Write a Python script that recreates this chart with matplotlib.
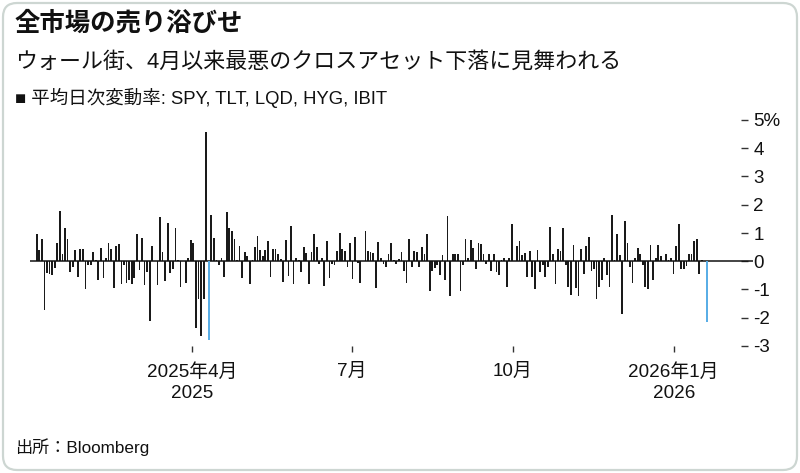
import matplotlib
matplotlib.use('Agg')
import matplotlib.pyplot as plt
import numpy as np
import pandas as pd
from matplotlib.patches import FancyBboxPatch

plt.rcParams['font.family'] = ['Liberation Sans', 'Noto Sans CJK JP', 'DejaVu Sans']

# ---- data ----
holidays = ['2025-01-01', '2025-01-09', '2025-01-20', '2025-02-17', '2025-04-18',
            '2025-05-26', '2025-06-19', '2025-07-04', '2025-09-01', '2025-11-27',
            '2025-12-25', '2026-01-01', '2026-01-19']
start_date = '2025-01-02'
end_date = '2026-01-20'

avg_change = [
    0.95, 0.4, 0.8, -1.74, -0.4, -0.45, -0.5, -0.25, 0.66, 1.77, 0.27, 1.16, 0.8, -0.38, -0.2,
    0.41, -0.55, 0.45, 0.43, -1.0, -0.15,
    -0.15, 0.33, 0.05, -0.67, 0.47, -0.6, 0.1, 0.66, 0.43, -0.93, 0.54, 0.6, -0.8, -0.15,
    -0.78, -0.67, -0.8, -0.6, 0.95, -0.32, 0.84, -0.85,
    -0.38, -2.13, 0.53, 0.02, -0.83, 1.55, 0.31, -0.69, 1.36, -0.4, -0.28, 1.18, 0.04, -0.91,
    0.0, -0.78, 0.12, 0.74, 0.66, -2.35, -1.32, -2.65, -1.32,
    4.56, -2.77, 1.65, 0.84, 0.05, -0.14, 0.1, -0.55, 1.73, 1.16, 1.06, 0.8, 0.03, 0.53,
    -0.59, 0.31, 0.19, -0.82, 0.04, 0.5, 0.9, 0.39, 0.2,
    0.41, 0.71, -0.55, 0.45, 0.43, 0.24, 0.07, -0.73, 0.74, -0.52, 1.24, -0.79, 0.13, 0.04,
    -0.38, 0.51, 0.3, -0.79, 0.33, 0.98, 0.5, -0.08, 0.12,
    -0.89, 0.71, -0.61, -0.08, -0.14, 0.35, 1.0, 0.43, 0.38, -0.2, 0.66, -0.64, 0.86, -0.07,
    -0.77, 0.02, 1.06, 0.37, 0.33, 0.3, -0.93, 0.69, 0.12,
    -0.1, -0.2, 0.24, 0.66, 0.04, -0.08, 0.07, 0.33, -0.33, -0.76, 0.78, -0.2, 0.37, 0.33,
    -0.2, 0.5, 0.27, 0.97, -1.05, -0.35, -0.24, -0.14,
    -0.5, 0.21, -0.65, 1.6, -1.24, 0.24, 0.24, 0.24, -1.05, -0.12, 0.77, 0.1, 0.74, 0.47,
    -0.26, 0.66, 0.61, 0.27, -0.08, 0.27, -0.34, 0.24, -0.38,
    -0.5, 0.03, 0.1, -0.91, 0.12, 1.31, 0.02, 0.54, 0.73, 0.21, 0.3, -0.55, 0.35, -0.55,
    -1.0, 0.39, -0.38, -0.14, -0.55, -0.2, 1.2, 0.27,
    -0.79, 0.45, 0.35, 1.18, -0.14, -0.91, -1.2, 0.57, -0.93, -1.24, 0.45, -0.46, 0.54, 0.85,
    -0.35, -0.26, -1.35, -0.91, -0.67, 0.1, -0.5, -0.91,
    1.63, 0.03, 0.95, 0.21, -1.88, 1.42, 0.63, -0.2, -0.76, 0.12, 0.48, 0.25, -0.14, -0.91,
    -0.97, 0.57, -0.67, 0.1, 0.57, 0.19, 0.02, 0.24,
    0.05, 0.13, -0.45, 0.54, 1.32, -0.28, -0.28, -0.17, 0.24, 0.24, 0.71, 0.78, -0.46, 0.03,
    0.02, -2.15,
]
highlight_dates = ['2025-04-10', '2026-01-20']

xtick_dates = ['2025-04-01', '2025-07-01', '2025-10-01', '2026-01-01']
xtick_labels = ['2025年4月\n2025', '7月', '10月', '2026年1月\n2026']
ytick_values = [5, 4, 3, 2, 1, 0, -1, -2, -3]
ytick_labels = ['5%', '4', '3', '2', '1', '0', '-1', '-2', '-3']

title = '全市場の売り浴びせ'
subtitle = 'ウォール街、4月以来最悪のクロスアセット下落に見舞われる'
legend_text = '平均日次変動率: SPY, TLT, LQD, HYG, IBIT'
source = '出所：Bloomberg'

# trading-day axis: one evenly spaced slot per session
dates = pd.bdate_range(start_date, end_date, freq='C', holidays=holidays)
n = min(len(dates), len(avg_change))
dates = dates[:n]
vals = np.array(avg_change[:n])
pos = np.arange(n)
is_hl = np.asarray(dates.isin(pd.to_datetime(highlight_dates)))

# month ticks placed proportionally in calendar time along the session axis
span = (dates[-1] - dates[0]).days
tick_pos = [(pd.Timestamp(t) - dates[0]).days / span * (n - 1) for t in xtick_dates]

BAR = '#1a1a1a'
BLUE = '#5aaee6'

W, H = 800, 473
fig = plt.figure(figsize=(W / 100, H / 100), dpi=100)
fig.patch.set_facecolor('white')

border = FancyBboxPatch((0.03, 0.03), W / 100 - 0.06, H / 100 - 0.06,
                        boxstyle='round,pad=0,rounding_size=0.14',
                        transform=fig.dpi_scale_trans, fc='none', ec='#cdd6d2', lw=1.6,
                        zorder=-5)
fig.patches.append(border)

left_px, right_px, top_px, bot_px = 30, 741, 120, 346
first_px, last_px = 36.7, 707.0
ax = fig.add_axes([left_px / W, 1 - bot_px / H, (right_px - left_px) / W, (bot_px - top_px) / H])
ax.set_facecolor('none')

ax.bar(pos[~is_hl], vals[~is_hl], width=0.68, color=BAR, linewidth=0, zorder=2)
ax.bar(pos[is_hl], vals[is_hl], width=0.78, color=BLUE, linewidth=0, zorder=4)
ax.plot([0, 1 + 12 / (right_px - left_px)], [0, 0], transform=ax.get_yaxis_transform(),
        color='#111111', lw=1.1, zorder=3, clip_on=False, solid_capstyle='butt')

px_per_bar = (last_px - first_px) / (n - 1)
ax.set_xlim((left_px - first_px) / px_per_bar, (right_px - first_px) / px_per_bar)
ax.set_ylim(-3, 5)

for s in ax.spines.values():
    s.set_visible(False)

ax.set_xticks(tick_pos)
ax.set_xticklabels(xtick_labels, linespacing=1.35)
ax.tick_params(axis='x', length=4, width=1, color='#333333', pad=8, labelsize=13.6,
               labelcolor='#111111')

ax.yaxis.tick_right()
ax.set_yticks(ytick_values)
ax.set_yticklabels(ytick_labels)
ax.tick_params(axis='y', length=5, width=1, color='#333333', pad=4, labelsize=13.5,
               labelcolor='#111111')

fig.text(15 / W, 1 - 23 / H, title, fontsize=18.3, fontweight='bold', va='center', ha='left',
         color='#111111')
fig.text(15 / W, 1 - 62 / H, subtitle, fontsize=15.8, va='center', ha='left', color='#111111')
fig.text(15 / W, 1 - 98 / H, '■ ' + legend_text, fontsize=13.3, va='center', ha='left',
         color='#111111')
fig.text(15 / W, 1 - 447 / H, source, fontsize=12.3, va='center', ha='left', color='#111111')

fig.savefig('out.png', dpi=100)
